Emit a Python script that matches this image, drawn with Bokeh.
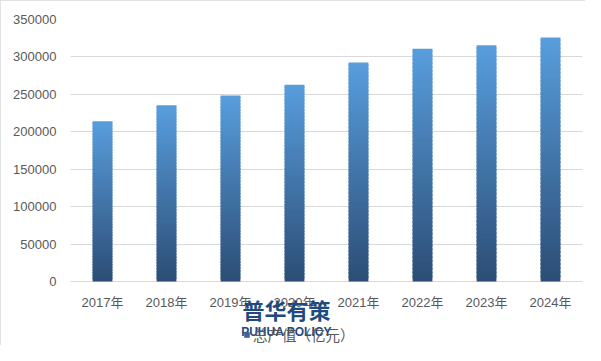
import numpy as np
from bokeh.plotting import figure
from bokeh.models import Range1d, FixedTicker, NumeralTickFormatter, Legend, LegendItem, Label
from bokeh.core.properties import value
from bokeh.embed import file_html
from bokeh.resources import INLINE

years = ["2017年", "2018年", "2019年", "2020年", "2021年", "2022年", "2023年", "2024年"]
values = [214000, 235500, 248500, 263000, 292500, 311000, 315500, 326000]
y_ticks = [0, 50000, 100000, 150000, 200000, 250000, 300000, 350000]
series_name = "总产值（亿元）"

FONT = "Liberation Sans, Noto Sans CJK SC"
TXT = "#595959"
PX = 350000 / 262.0  # data units per pixel

p = figure(x_range=years, y_range=Range1d(-64 * PX, 350000), width=585, height=345,
           output_backend="svg", toolbar_location=None, x_axis_location=None,
           min_border_left=70, min_border_right=3, min_border_top=19, min_border_bottom=0)
p.styles = {"outline": "1px solid #d9d9d9", "outline-offset": "-1px"}

# gradient bars built from stacked slices of each value
N = 60
top_c = np.array([88, 158, 222])
bot_c = np.array([44, 78, 118])
xs, bots, tops, cols = [], [], [], []
for yr, v in zip(years, values):
    for k in range(N):
        f = k / N
        c = bot_c + (top_c - bot_c) * f
        xs.append(yr)
        bots.append(v * k / N)
        tops.append(min(v, v * (k + 1.6) / N))
        cols.append("#%02x%02x%02x" % tuple(int(round(t)) for t in c))
p.vbar(x=xs, bottom=bots, top=tops, width=0.31, fill_color=cols, line_color=None)

dummy = p.vbar(x=[years[0]], top=[0], bottom=[0], width=0.31, fill_color="#3a6596",
               line_color=None)

# category labels under the bars
p.text(x=years, y=[-21 * PX] * len(years), text=years, text_align="center",
       text_baseline="middle", text_font=value(FONT), text_font_size="13px",
       text_color=TXT)

p.yaxis.ticker = FixedTicker(ticks=y_ticks)
p.yaxis.formatter = NumeralTickFormatter(format="0")
ax = p.yaxis[0]
ax.axis_line_color = None
ax.major_tick_line_color = None
ax.minor_tick_line_color = None
ax.major_tick_out = 0
ax.major_label_text_font = FONT
ax.major_label_text_font_size = "13px"
ax.major_label_text_color = TXT
ax.major_label_standoff = 14

p.xgrid.grid_line_color = None
p.ygrid.grid_line_color = "#d9d9d9"
p.outline_line_color = None

legend = Legend(items=[LegendItem(label=series_name, renderers=[dummy])],
                location=(173, 0), orientation="horizontal",
                glyph_width=7, glyph_height=7, label_standoff=3,
                label_text_font=FONT, label_text_font_size="14.5px", label_text_color=TXT,
                border_line_color=None, background_fill_alpha=0, padding=0, margin=0,
                label_height=14)
p.add_layout(legend, "center")

wm1 = Label(x=3.375, y=-27 * PX, text="普华有策", text_align="center", text_baseline="middle",
            text_font="Noto Sans CJK SC", text_font_size="22px", text_font_style="bold",
            text_color="#1f4a80")
wm2 = Label(x=3.375, y=-50 * PX, text="PUHUA POLICY", text_align="center", text_baseline="middle",
            text_font="Liberation Sans", text_font_size="12px", text_font_style="bold",
            text_color="#1f4a80")
p.add_layout(wm1)
p.add_layout(wm2)

open("out.html", "w").write(file_html(p, INLINE))
